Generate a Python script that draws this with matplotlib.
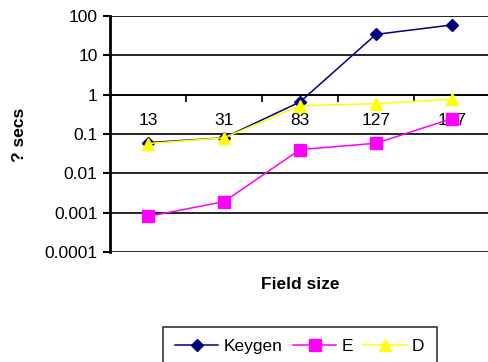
import matplotlib
matplotlib.use("Agg")
import matplotlib.pyplot as plt

# data
field_sizes = ["13", "31", "83", "127", "167"]
keygen = [0.06, 0.08, 0.65, 34, 59]
e_vals = [0.0008, 0.0019, 0.04, 0.058, 0.245]
d_vals = [0.057, 0.08, 0.52, 0.59, 0.76]

plt.rcParams["font.family"] = ["Liberation Sans", "DejaVu Sans"]

fig = plt.figure(figsize=(4.89, 3.62), dpi=100)
ax = fig.add_axes([0.225, 0.304, 0.777, 0.652])

x = list(range(len(field_sizes)))
ax.plot(x, keygen, color="#000080", marker="D", markersize=6, lw=1.1, label="Keygen", zorder=3)
ax.plot(x, e_vals, color="#FF00FF", marker="s", markersize=8, lw=1.1, label="E", zorder=3)
ax.plot(x, d_vals, color="#FFFF00", marker="^", markersize=9, lw=1.1, label="D", zorder=4)

ax.set_yscale("log")
ax.set_ylim(0.0001, 100)
ax.set_xlim(-0.5, len(field_sizes) - 0.5)

# horizontal gridlines
ax.set_yticks([0.0001, 0.001, 0.01, 0.1, 1, 10, 100])
ax.set_yticklabels(["0.0001", "0.001", "0.01", "0.1", "1", "10", "100"], fontsize=12.5)
ax.yaxis.set_minor_locator(matplotlib.ticker.NullLocator())
ax.tick_params(axis="y", length=5, width=1.5, pad=4)
for yv in [0.0001, 0.001, 0.01, 0.1, 1, 10, 100]:
    ax.axhline(yv, color="black", lw=1.2, zorder=1)

# category axis crossing at y = 1
ax.spines["bottom"].set_position(("data", 1))
ax.spines["top"].set_visible(False)
ax.spines["right"].set_visible(False)
ax.spines["left"].set_linewidth(2)
ax.spines["bottom"].set_linewidth(1.2)
ax.set_xticks([0.5, 1.5, 2.5, 3.5])
ax.set_xticklabels([])
ax.tick_params(axis="x", which="major", direction="out", length=5, width=1.2)
ax.set_xticks(x, minor=True)
ax.set_xticklabels(field_sizes, minor=True, fontsize=12.5)
ax.tick_params(axis="x", which="minor", length=0, pad=13)

fig.text(0.04, 0.627, "? secs", rotation=90, fontsize=12.5, fontweight="bold",
         ha="center", va="center")
fig.text(0.613, 0.213, "Field size", fontsize=12.5, fontweight="bold",
         ha="center", va="center")

leg = fig.legend(loc="upper center", bbox_to_anchor=(0.613, 0.122), ncol=3, fontsize=12.5,
                 frameon=True, fancybox=False, edgecolor="black", handlelength=2.5,
                 columnspacing=0.6, handletextpad=0.3, borderpad=0.7)
leg.get_frame().set_linewidth(1.2)

fig.savefig("out.png", dpi=100)
